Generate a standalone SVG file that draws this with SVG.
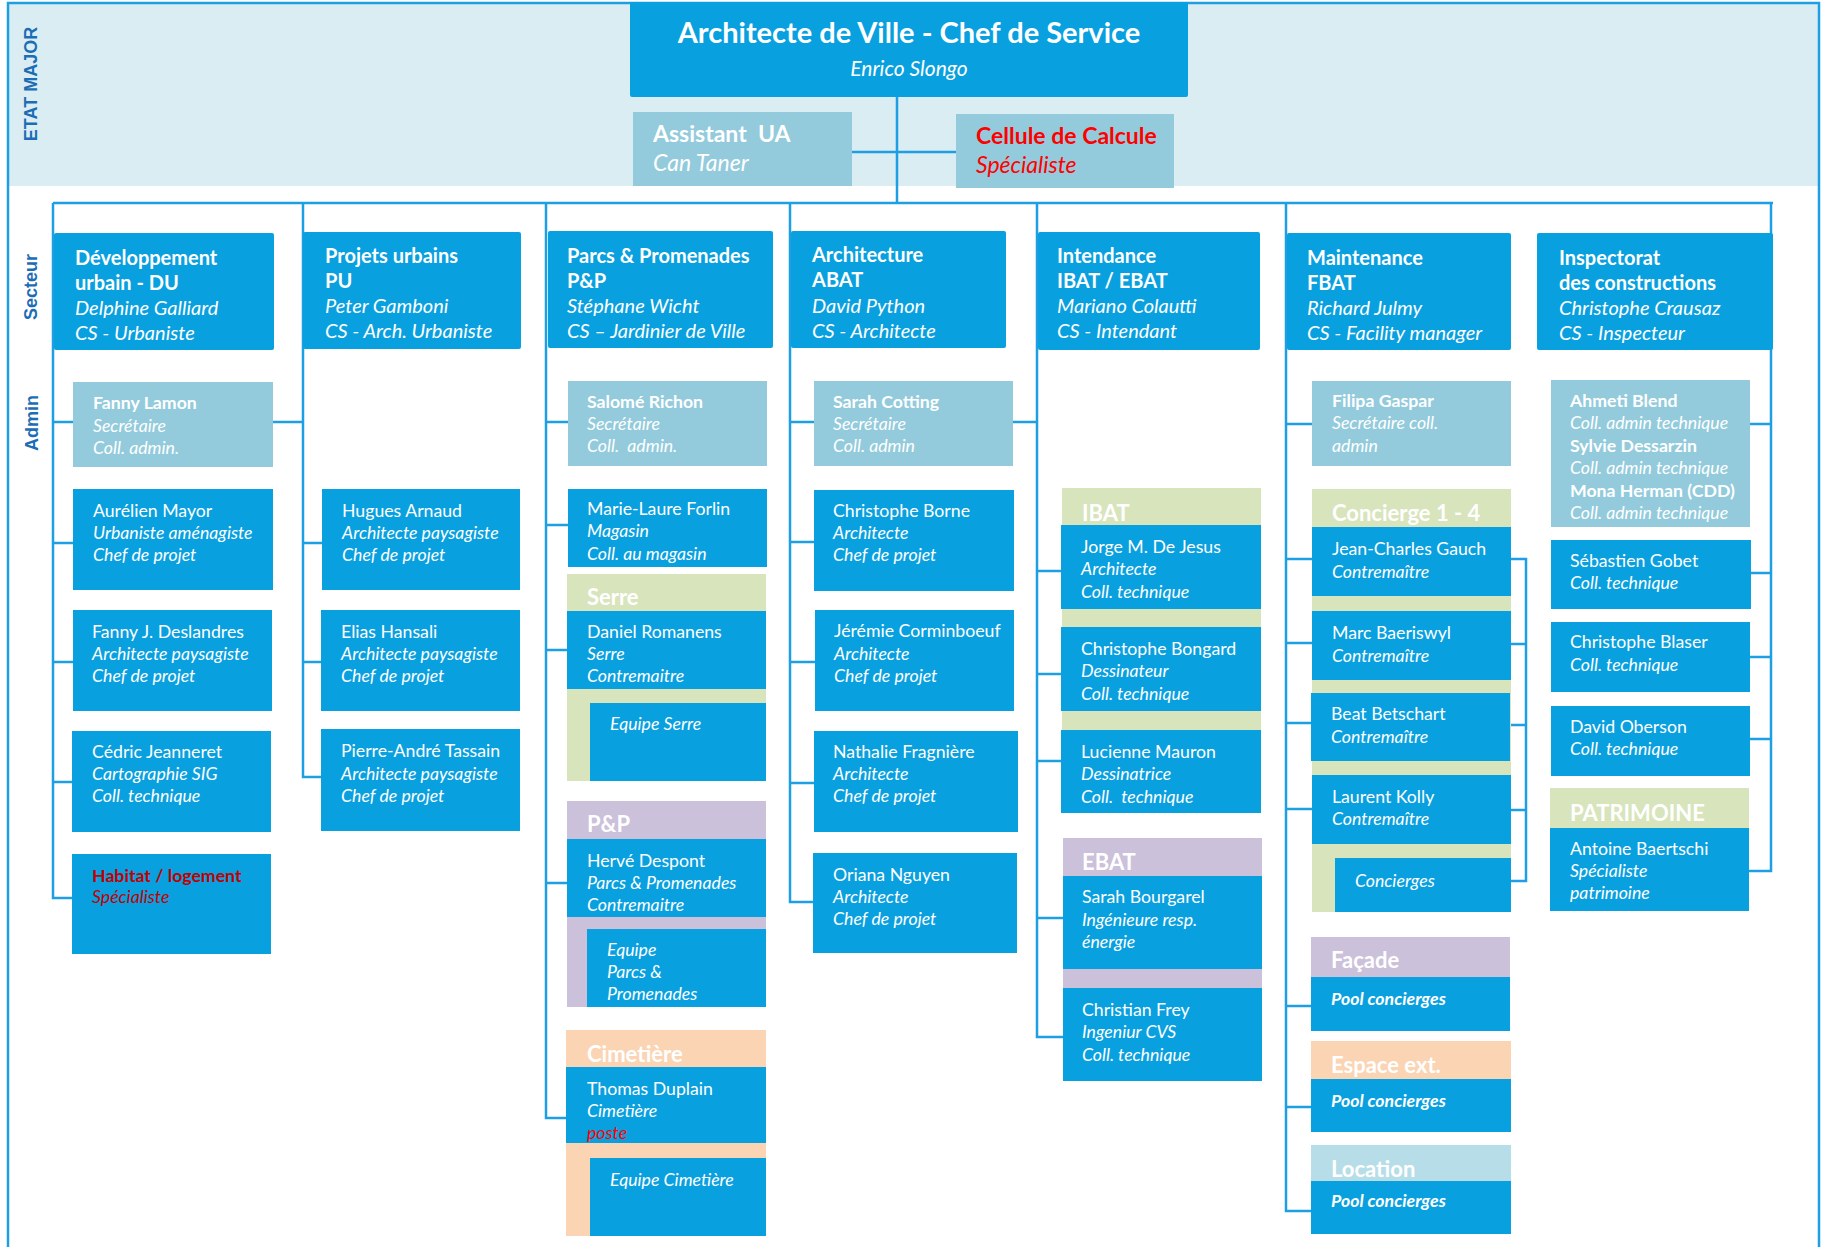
<svg xmlns="http://www.w3.org/2000/svg" width="1827" height="1247" viewBox="0 0 1827 1247">
<style>
.bl{fill:#09a0e0}.lt{fill:#93cbdc}.gr{fill:#d8e4bc}.pu{fill:#ccc1da}.pe{fill:#fbd4b4}.lc{fill:#b7dee8}
text{font-family:Lato,"Open Sans","Liberation Sans",sans-serif;fill:#fff;font-size:17.7px}
.i{font-style:italic}.b{font-weight:bold}
.s{font-size:20px}.h{font-size:22px;font-weight:bold}
.t1{font-size:29px;font-weight:bold}.t2{font-size:21px;font-style:italic}.t3{font-size:23px}
.vl{font-family:"Liberation Sans",Arial,sans-serif;font-weight:bold;font-size:18px;fill:#1c6db5}
.ln{fill:none;stroke:#1e9fe3;stroke-width:2.5}
.in{fill:none;stroke:#1e9fe3;stroke-width:2}
.red{fill:#ff0000}.dred{fill:#c00000}
</style>
<rect x="9" y="4" width="1809" height="182" fill="#daedf3"/>
<path class="ln" d="M8,1247 V3 H1819 V1247"/>
<text class="vl" transform="translate(37,84) rotate(-90)" text-anchor="middle">ETAT MAJOR</text>
<text class="vl" transform="translate(37,287) rotate(-90)" text-anchor="middle">Secteur</text>
<text class="vl" transform="translate(38,423) rotate(-90)" text-anchor="middle">Admin</text>

<g id="connectors">
<path class="ln" d="M897,97 V203 M852,152 H956 M53,203 H1773"/>
<path class="ln" d="M53,203 V898 H72 M53,422 H73 M53,543 H73 M53,662 H73 M53,782 H72"/>
<path class="ln" d="M303,203 V777 H321 M273,422 H303 M303,543 H322 M303,662 H321"/>
<path class="ln" d="M546,203 V1118 H566 M546,422 H568 M546,525 H568 M546,650 H567 M546,883 H567"/>
<path class="ln" d="M790,203 V902 H813 M790,422 H814 M790,542 H814 M790,662 H815 M790,783 H814 M1013,422 H1037"/>
<path class="ln" d="M1037,203 V1037 H1063 M1037,571 H1061 M1037,674 H1061 M1037,761 H1061 M1037,918 H1063"/>
<path class="ln" d="M1286,203 V1211 H1311 M1286,424 H1312 M1286,559 H1312 M1286,643 H1312 M1286,723 H1311 M1286,809 H1312 M1286,1006 H1311 M1286,1107 H1311"/>
<path class="ln" d="M1511,559 H1526 V881 H1511 M1511,644 H1526 M1510,725 H1526 M1511,810 H1526"/>
<path class="ln" d="M1771,203 V871 H1749 M1771,424 H1750 M1771,573 H1751 M1771,657 H1750 M1771,739 H1750"/>
<path class="in" d="M570,689 V743 H590 M568,917 V973 H587 M568,1143 V1200 H590"/>
</g>

<g id="chef"><rect class="bl" x="630" y="2" width="558" height="95" rx="2"/>
<text class="t1" x="909" y="43" text-anchor="middle">Architecte de Ville - Chef de Service</text>
<text class="t2" x="909" y="76" text-anchor="middle">Enrico Slongo</text></g>
<g id="assistant"><rect class="lt" x="633" y="112" width="219" height="74"/>
<text class="b t3" x="653" y="142" xml:space="preserve">Assistant  UA</text>
<text class="i t3" x="653" y="171">Can Taner</text></g>
<g id="cellule"><rect class="lt" x="956" y="114" width="218" height="74"/>
<text class="b red t3" x="976" y="144">Cellule de Calcule</text>
<text class="i red t3" x="976" y="173">Spécialiste</text></g>

<g id="du"><rect class="bl" x="54" y="233" width="220" height="117" rx="2"/>
<text class="s b" x="75" y="265">Développement</text><text class="s b" x="75" y="290">urbain - DU</text>
<text class="s i" x="75" y="315">Delphine Galliard</text><text class="s i" x="75" y="340">CS - Urbaniste</text></g>
<g id="pu"><rect class="bl" x="303" y="232" width="218" height="117" rx="2"/>
<text class="s b" x="325" y="263">Projets urbains</text><text class="s b" x="325" y="288">PU</text>
<text class="s i" x="325" y="313">Peter Gamboni</text><text class="s i" x="325" y="338">CS - Arch. Urbaniste</text></g>
<g id="pp"><rect class="bl" x="548" y="231" width="225" height="117" rx="2"/>
<text class="s b" x="567" y="263">Parcs &amp; Promenades</text><text class="s b" x="567" y="288">P&amp;P</text>
<text class="s i" x="567" y="313">Stéphane Wicht</text><text class="s i" x="567" y="338">CS – Jardinier de Ville</text></g>
<g id="abat"><rect class="bl" x="791" y="231" width="215" height="117" rx="2"/>
<text class="s b" x="812" y="262">Architecture</text><text class="s b" x="812" y="287">ABAT</text>
<text class="s i" x="812" y="313">David Python</text><text class="s i" x="812" y="338">CS - Architecte</text></g>
<g id="ibat"><rect class="bl" x="1038" y="232" width="222" height="118" rx="2"/>
<text class="s b" x="1057" y="263">Intendance</text><text class="s b" x="1057" y="288">IBAT / EBAT</text>
<text class="s i" x="1057" y="313">Mariano Colautti</text><text class="s i" x="1057" y="338">CS - Intendant</text></g>
<g id="fbat"><rect class="bl" x="1287" y="233" width="224" height="117" rx="2"/>
<text class="s b" x="1307" y="265">Maintenance</text><text class="s b" x="1307" y="290">FBAT</text>
<text class="s i" x="1307" y="315">Richard Julmy</text><text class="s i" x="1307" y="340">CS - Facility manager</text></g>
<g id="insp"><rect class="bl" x="1537" y="233" width="236" height="117" rx="2"/>
<text class="s b" x="1559" y="265">Inspectorat</text><text class="s b" x="1559" y="290">des constructions</text>
<text class="s i" x="1559" y="315">Christophe Crausaz</text><text class="s i" x="1559" y="340">CS - Inspecteur</text></g>

<g id="fanny-lamon"><rect class="lt" x="73" y="382" width="200" height="85"/>
<text class="b" x="93" y="409">Fanny Lamon</text><text class="i" x="93" y="432">Secrétaire</text><text class="i" x="93" y="454">Coll. admin.</text></g>
<g id="aurelien"><rect class="bl" x="73" y="489" width="200" height="101"/>
<text x="93" y="517">Aurélien Mayor</text><text class="i" x="93" y="539">Urbaniste aménagiste</text><text class="i" x="93" y="561">Chef de projet</text></g>
<g id="fanny-j"><rect class="bl" x="73" y="610" width="199" height="101"/>
<text x="92" y="638">Fanny J. Deslandres</text><text class="i" x="92" y="660">Architecte paysagiste</text><text class="i" x="92" y="682">Chef de projet</text></g>
<g id="cedric"><rect class="bl" x="72" y="731" width="199" height="101"/>
<text x="92" y="758">Cédric Jeanneret</text><text class="i" x="92" y="780">Cartographie SIG</text><text class="i" x="92" y="802">Coll. technique</text></g>
<g id="habitat"><rect class="bl" x="72" y="854" width="199" height="100"/>
<text class="b dred" x="92" y="882">Habitat / logement</text><text class="i dred" x="92" y="903">Spécialiste</text></g>

<g id="hugues"><rect class="bl" x="322" y="489" width="198" height="101"/>
<text x="342" y="517">Hugues Arnaud</text><text class="i" x="342" y="539">Architecte paysagiste</text><text class="i" x="342" y="561">Chef de projet</text></g>
<g id="elias"><rect class="bl" x="321" y="610" width="199" height="101"/>
<text x="341" y="638">Elias Hansali</text><text class="i" x="341" y="660">Architecte paysagiste</text><text class="i" x="341" y="682">Chef de projet</text></g>
<g id="pierre"><rect class="bl" x="321" y="729" width="199" height="102"/>
<text x="341" y="757">Pierre-André Tassain</text><text class="i" x="341" y="780">Architecte paysagiste</text><text class="i" x="341" y="802">Chef de projet</text></g>

<g id="salome"><rect class="lt" x="568" y="381" width="199" height="85"/>
<text class="b" x="587" y="408">Salomé Richon</text><text class="i" x="587" y="430">Secrétaire</text><text class="i" x="587" y="452" xml:space="preserve">Coll.  admin.</text></g>
<g id="marie-laure"><rect class="bl" x="568" y="489" width="199" height="78"/>
<text x="587" y="515">Marie-Laure Forlin</text><text class="i" x="587" y="537">Magasin</text><text class="i" x="587" y="560">Coll. au magasin</text></g>
<g id="serre"><rect class="gr" x="567" y="574" width="199" height="207"/>
<text class="h" x="587" y="605">Serre</text>
<rect class="bl" x="567" y="611" width="199" height="78"/>
<text x="587" y="638">Daniel Romanens</text><text class="i" x="587" y="660">Serre</text><text class="i" x="587" y="682">Contremaitre</text>
<rect class="bl" x="590" y="703" width="176" height="78"/>
<text class="i" x="610" y="730">Equipe Serre</text></g>
<g id="pp-team"><rect class="pu" x="567" y="801" width="199" height="206"/>
<text class="h" x="587" y="832">P&amp;P</text>
<rect class="bl" x="567" y="839" width="199" height="78"/>
<text x="587" y="867">Hervé Despont</text><text class="i" x="587" y="889">Parcs &amp; Promenades</text><text class="i" x="587" y="911">Contremaitre</text>
<rect class="bl" x="587" y="929" width="179" height="78"/>
<text class="i" x="607" y="956">Equipe</text><text class="i" x="607" y="978">Parcs &amp;</text><text class="i" x="607" y="1000">Promenades</text></g>
<g id="cimetiere"><rect class="pe" x="566" y="1030" width="200" height="206"/>
<text class="h" x="587" y="1062">Cimetière</text>
<rect class="bl" x="566" y="1067" width="200" height="76"/>
<text x="587" y="1095">Thomas Duplain</text><text class="i" x="587" y="1117">Cimetière</text><text class="i red" x="587" y="1139">poste</text>
<rect class="bl" x="590" y="1158" width="176" height="78"/>
<text class="i" x="610" y="1186">Equipe Cimetière</text></g>

<g id="sarah-cotting"><rect class="lt" x="814" y="381" width="199" height="85"/>
<text class="b" x="833" y="408">Sarah Cotting</text><text class="i" x="833" y="430">Secrétaire</text><text class="i" x="833" y="452">Coll. admin</text></g>
<g id="borne"><rect class="bl" x="814" y="490" width="200" height="101"/>
<text x="833" y="517">Christophe Borne</text><text class="i" x="833" y="539">Architecte</text><text class="i" x="833" y="561">Chef de projet</text></g>
<g id="jeremie"><rect class="bl" x="815" y="610" width="199" height="101"/>
<text x="834" y="637">Jérémie Corminboeuf</text><text class="i" x="834" y="660">Architecte</text><text class="i" x="834" y="682">Chef de projet</text></g>
<g id="nathalie"><rect class="bl" x="814" y="731" width="204" height="101"/>
<text x="833" y="758">Nathalie Fragnière</text><text class="i" x="833" y="780">Architecte</text><text class="i" x="833" y="802">Chef de projet</text></g>
<g id="oriana"><rect class="bl" x="813" y="853" width="204" height="100"/>
<text x="833" y="881">Oriana Nguyen</text><text class="i" x="833" y="903">Architecte</text><text class="i" x="833" y="925">Chef de projet</text></g>

<g id="ibat-team"><rect class="gr" x="1062" y="488" width="199" height="325"/>
<text class="h" x="1082" y="521">IBAT</text>
<rect class="bl" x="1061" y="525" width="200" height="84"/>
<text x="1081" y="553">Jorge M. De Jesus</text><text class="i" x="1081" y="575">Architecte</text><text class="i" x="1081" y="598">Coll. technique</text>
<rect class="bl" x="1061" y="627" width="200" height="84"/>
<text x="1081" y="655">Christophe Bongard</text><text class="i" x="1081" y="677">Dessinateur</text><text class="i" x="1081" y="700">Coll. technique</text>
<rect class="bl" x="1061" y="730" width="200" height="83"/>
<text x="1081" y="758">Lucienne Mauron</text><text class="i" x="1081" y="780">Dessinatrice</text><text class="i" x="1081" y="803" xml:space="preserve">Coll.  technique</text></g>
<g id="ebat-team"><rect class="pu" x="1063" y="838" width="199" height="243"/>
<text class="h" x="1082" y="870">EBAT</text>
<rect class="bl" x="1063" y="876" width="199" height="93"/>
<text x="1082" y="903">Sarah Bourgarel</text><text class="i" x="1082" y="926">Ingénieure resp.</text><text class="i" x="1082" y="948">énergie</text>
<rect class="bl" x="1063" y="988" width="199" height="93"/>
<text x="1082" y="1016">Christian Frey</text><text class="i" x="1082" y="1038">Ingeniur CVS</text><text class="i" x="1082" y="1061">Coll. technique</text></g>

<g id="filipa"><rect class="lt" x="1312" y="381" width="199" height="85"/>
<text class="b" x="1332" y="407">Filipa Gaspar</text><text class="i" x="1332" y="429">Secrétaire coll.</text><text class="i" x="1332" y="452">admin</text></g>
<g id="concierge-team"><rect class="gr" x="1312" y="489" width="199" height="423"/>
<text class="h" x="1332" y="521">Concierge 1 - 4</text>
<rect class="bl" x="1312" y="527" width="199" height="69"/>
<text x="1332" y="555">Jean-Charles Gauch</text><text class="i" x="1332" y="578">Contremaître</text>
<rect class="bl" x="1312" y="611" width="199" height="69"/>
<text x="1332" y="639">Marc Baeriswyl</text><text class="i" x="1332" y="662">Contremaître</text>
<rect class="bl" x="1311" y="693" width="199" height="68"/>
<text x="1331" y="720">Beat Betschart</text><text class="i" x="1331" y="743">Contremaître</text>
<rect class="bl" x="1312" y="775" width="199" height="69"/>
<text x="1332" y="803">Laurent Kolly</text><text class="i" x="1332" y="825">Contremaître</text>
<rect class="bl" x="1335" y="858" width="176" height="54"/>
<text class="i" x="1355" y="887">Concierges</text></g>
<g id="facade"><rect class="pu" x="1311" y="937" width="199" height="40"/><rect class="bl" x="1311" y="977" width="199" height="54"/>
<text class="h" x="1331" y="968">Façade</text><text class="b i" x="1331" y="1005">Pool concierges</text></g>
<g id="espace"><rect class="pe" x="1311" y="1041" width="200" height="38"/><rect class="bl" x="1311" y="1079" width="200" height="53"/>
<text class="h" x="1331" y="1073">Espace ext.</text><text class="b i" x="1331" y="1107">Pool concierges</text></g>
<g id="location"><rect class="lc" x="1311" y="1145" width="200" height="36"/><rect class="bl" x="1311" y="1181" width="200" height="53"/>
<text class="h" x="1331" y="1177">Location</text><text class="b i" x="1331" y="1207">Pool concierges</text></g>

<g id="ahmeti"><rect class="lt" x="1551" y="380" width="199" height="147"/>
<text class="b" x="1570" y="407">Ahmeti Blend</text><text class="i" x="1570" y="429">Coll. admin technique</text>
<text class="b" x="1570" y="452">Sylvie Dessarzin</text><text class="i" x="1570" y="474">Coll. admin technique</text>
<text class="b" x="1570" y="497">Mona Herman (CDD)</text><text class="i" x="1570" y="519">Coll. admin technique</text></g>
<g id="sebastien"><rect class="bl" x="1551" y="540" width="200" height="69"/>
<text x="1570" y="567">Sébastien Gobet</text><text class="i" x="1570" y="589">Coll. technique</text></g>
<g id="blaser"><rect class="bl" x="1551" y="622" width="199" height="70"/>
<text x="1570" y="648">Christophe Blaser</text><text class="i" x="1570" y="671">Coll. technique</text></g>
<g id="oberson"><rect class="bl" x="1551" y="706" width="199" height="70"/>
<text x="1570" y="733">David Oberson</text><text class="i" x="1570" y="755">Coll. technique</text></g>
<g id="patrimoine"><rect class="gr" x="1550" y="788" width="199" height="40"/><rect class="bl" x="1550" y="828" width="199" height="83"/>
<text class="h" x="1570" y="821">PATRIMOINE</text>
<text x="1570" y="855">Antoine Baertschi</text><text class="i" x="1570" y="877">Spécialiste</text><text class="i" x="1570" y="899">patrimoine</text></g>
</svg>
